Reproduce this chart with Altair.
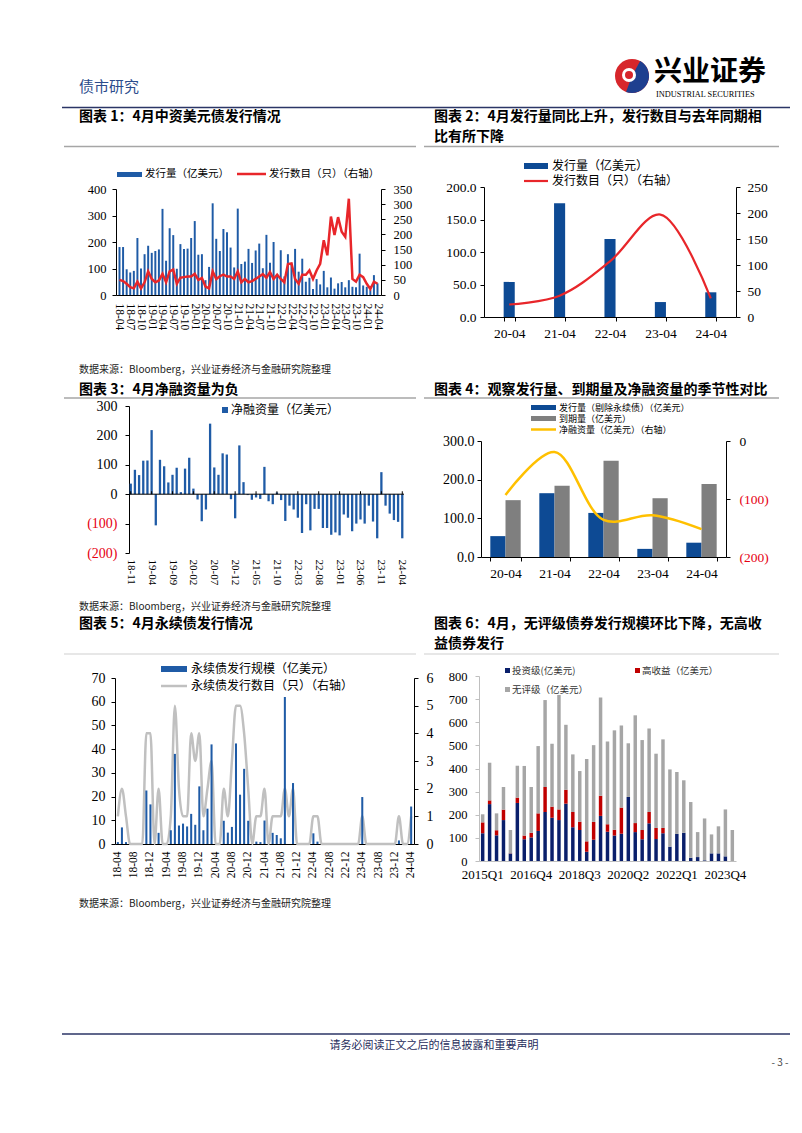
import altair as alt
import pandas as pd

CN = "Noto Sans CJK SC"
NUM = "Liberation Serif"

BLUE = "#1F5BA6"
BLUE_D = "#0D4A94"
RED = "#E8262A"
NEG_RED = "#E60012"
NAVY = "#0A1F6B"
DARK_RED = "#C00000"
GRAY6 = "#A6A6A6"
GRAY4 = "#7F7F7F"
GRAY5 = "#C0C0C0"
YELLOW = "#FFC000"
HEAD = "#2B3566"


def month_labels(y, m, n):
    out = []
    for _ in range(n):
        out.append("%02d-%02d" % (y % 100, m))
        m += 1
        if m > 12:
            m, y = 1, y + 1
    return out


# ---------------- data ----------------
months_1 = month_labels(2018, 4, 73)
issue_amt_1 = [181, 181, 97, 85, 91, 215, 100, 154, 186, 159,
               166, 172, 325, 129, 252, 226, 99, 192, 174, 175,
               215, 279, 152, 154, 56, 106, 346, 212, 166, 249,
               237, 179, 104, 326, 117, 126, 174, 121, 168, 194,
               101, 227, 122, 200, 75, 169, 70, 154, 119, 174,
               88, 137, 50, 65, 23, 60, 40, 91, 29, 66,
               24, 44, 49, 29, 56, 31, 29, 156, 36, 31,
               19, 75, 44]
issue_cnt_1 = [50, 46, 37, 26, 22, 44, 22, 42, 78, 53,
               42, 48, 70, 42, 78, 84, 37, 57, 59, 61,
               61, 70, 50, 56, 28, 22, 78, 53, 62, 67,
               61, 61, 53, 78, 42, 53, 42, 46, 53, 61,
               69, 57, 76, 53, 67, 53, 42, 102, 104, 53,
               37, 67, 67, 81, 53, 81, 103, 181, 131, 259,
               198, 257, 209, 192, 318, 53, 44, 67, 59, 37,
               20, 44, 37]

april_years = ["20-04", "21-04", "22-04", "23-04", "24-04"]
april_amt = [54, 175, 120, 23, 38]
april_cnt = [24, 41, 107, 197, 36]

months_3 = month_labels(2018, 11, 66)
net_3 = [36, 83, 65, 114, 115, 218, -106, 117, 95, 40,
         66, 90, 7, 87, 124, 19, -18, -92, -52, 240,
         91, 66, 139, 135, -17, -82, 166, 41, -3, -19,
         -11, -16, 93, -24, -34, 6, -20, -91, -39, -52,
         -80, -132, -34, -123, -50, -50, -115, -115, -138, -130,
         -140, -69, -80, -126, -100, -86, -100, -39, -93, -150,
         75, -39, -66, -88, -94, -150]

series_4 = ["发行量（剔除永续债）（亿美元）", "到期量（亿美元）"]
april_issue_ex = [54, 165, 114, 21, 37]
april_mature = [147, 184, 249, 152, 189]
april_net = [-93, -19, -136, -128, -152]

months_5 = month_labels(2018, 4, 73)
perp_amt = [0.8, 7, 0.8, 0, 0, 0, 0, 22.6, 16.7, 0,
            4.7, 0, 0, 5.8, 38, 7.8, 8.6, 7.4, 12.7, 8.1,
            24.3, 5.8, 14.9, 42, 0, 0, 9.8, 4.8, 7.2, 42.4,
            20.8, 31.7, 9.8, 0, 1, 0.8, 9.9, 0, 4.7, 3.8,
            2.4, 62, 0, 25.7, 0, 0, 0, 0, 4.5, 1,
            0, 0, 0, 0, 0, 0, 0, 0, 0, 0,
            19.8, 0, 0, 0, 0, 0, 0, 0, 0, 1.5,
            0, 0, 15.8]
perp_cnt = [1, 2, 1, 0, 0, 0, 0, 4, 4, 0,
            2, 0, 0, 1, 5, 2, 1, 1, 4, 3,
            4, 1, 2, 3, 0, 0, 2, 1, 3, 5,
            5, 4, 2, 0, 1, 1, 2, 0, 1, 1,
            1, 2, 1, 2, 0, 0, 0, 0, 1, 1,
            0, 0, 0, 0, 0, 0, 0, 0, 0, 0,
            1, 0, 0, 0, 0, 0, 0, 0, 0, 1,
            0, 0, 1]

quarters_6 = ["%dQ%d" % (y, q) for y in range(2015, 2025) for q in range(1, 5)][:37]
series_6 = ["投资级(亿美元)", "高收益（亿美元）", "无评级（亿美元）"]
ig_6 = [120, 246, 111, 177, 32, 251, 94, 102, 130, 212,
        187, 177, 248, 146, 134, 40, 92, 195, 127, 110,
        118, 277, 125, 94, 163, 95, 120, 62, 117, 122,
        14, 17, 3, 33, 33, 20, 0]
hy_6 = [47, 16, 22, 45, 1, 23, 16, 20, 76, 108,
        48, 46, 60, 66, 36, 45, 77, 87, 32, 25,
        113, 0, 39, 40, 49, 48, 23, 0, 0, 0,
        0, 0, 0, 0, 0, 0, 0]
nr_6 = [35, 163, 73, 98, 101, 138, 301, 198, 291, 376,
        272, 495, 281, 249, 219, 356, 332, 425, 358, 430,
        355, 232, 466, 389, 361, 321, 383, 334, 268, 227,
        241, 108, 181, 82, 117, 203, 134]

SOURCE = "数据来源：Bloomberg，兴业证券经济与金融研究院整理"

# ---------------- helpers ----------------
ONE = pd.DataFrame({"k": [0]})


def label(s, x, y, size, color="#000", weight="normal", font=CN, align="left"):
    return alt.Chart(ONE).mark_text(
        text=s, font=font, fontSize=size, color=color, fontWeight=weight,
        align=align, baseline="middle"
    ).encode(x=alt.value(x), y=alt.value(y))


def hline(x1, x2, y, color, w):
    return alt.Chart(ONE).mark_rule(color=color, strokeWidth=w).encode(
        x=alt.value(x1), x2=alt.value(x2), y=alt.value(y))


def swatch(x1, x2, y1, y2, color):
    return alt.Chart(ONE).mark_rect(color=color).encode(
        x=alt.value(x1), x2=alt.value(x2), y=alt.value(y1), y2=alt.value(y2))


def disc(cx, cy, r, color, t1=0.0, t2=6.2832):
    return alt.Chart(ONE).mark_arc(
        theta=t1, theta2=t2, outerRadius=r, innerRadius=0, color=color
    ).encode(x=alt.value(cx), y=alt.value(cy))


def blank(w=1, h=1):
    return alt.Chart(ONE).mark_point(opacity=0).encode(
        x=alt.value(0), y=alt.value(0)).properties(width=w, height=h)


NEG_EXPR = "datum.value < 0 ? '(' + (-datum.value) + ')' : '' + datum.value"
NEG_COLOR = {"condition": {"test": "datum.value < 0", "value": NEG_RED}, "value": "#000000"}


def yax(vals, orient="left", size=12, pad=6, fmt=None, neg=False, line="#000000", offset=0):
    kw = dict(orient=orient, values=vals, title=None, grid=False, labelFont=NUM,
              labelFontSize=size, labelColor="#000000", domainColor=line,
              tickColor=line, tickSize=4, labelPadding=pad, labelOverlap=False)
    if offset:
        kw["offset"] = offset
    if fmt:
        kw["format"] = fmt
    if neg:
        kw["labelExpr"] = NEG_EXPR
        kw["labelColor"] = NEG_COLOR
    return alt.Axis(**kw)


def xax(vals=None, angle=0, size=12, pad=6, ticks=False, band=False, domain=True, line="#000000"):
    kw = dict(labelAngle=angle, labelFont=NUM, labelFontSize=size, labelColor="#000000",
              domain=domain, domainColor=line, ticks=ticks, labelPadding=pad, title=None,
              labelOverlap=False)
    if vals is not None:
        kw["values"] = vals
    if ticks:
        kw["tickColor"] = line
        kw["tickSize"] = 4
    if band:
        kw["tickBand"] = "extent"
    return alt.Axis(**kw)


# ---------------- chart 1 (view at page x111,y183) ----------------
df1 = pd.DataFrame({"m": months_1, "amt": issue_amt_1, "cnt": issue_cnt_1})
x1 = alt.X("m:N", scale=alt.Scale(domain=months_1, range=[1, 266], paddingInner=0.45, paddingOuter=0.7),
           axis=xax(months_1[::3], angle=90, size=11.5, pad=8))
b1 = alt.Chart(df1).mark_bar(color=BLUE).encode(
    x=x1, y=alt.Y("amt:Q", scale=alt.Scale(domain=[0, 400], range=[108, 2], nice=False),
                  axis=yax([0, 100, 200, 300, 400], size=12.5, pad=6, offset=-1)))
l1 = alt.Chart(df1).mark_line(color=RED, strokeWidth=2.5).encode(
    x=x1, y=alt.Y("cnt:Q", scale=alt.Scale(domain=[0, 350], range=[108, 2], nice=False),
                  axis=yax(list(range(0, 351, 50)), orient="right", size=12.5, pad=8)))
chart1 = alt.layer(
    b1, l1,
    swatch(2, 27, -15, -10, BLUE), label("发行量（亿美元）", 30, -13, 10.5),
    hline(122, 151, -13, RED, 2.5), label("发行数目（只）（右轴）", 154, -13, 10.5),
).resolve_scale(y="independent").properties(width=266, height=108)

# ---------------- chart 2 (view at page x475,y183) ----------------
df2 = pd.DataFrame({"yr": april_years, "amt": april_amt, "cnt": april_cnt})
x2 = alt.X("yr:N", scale=alt.Scale(domain=april_years, range=[5, 257], paddingInner=0.78, paddingOuter=0.39),
           axis=xax(angle=0, size=13.5, pad=5, ticks=True, band=True))
b2 = alt.Chart(df2).mark_bar(color=BLUE_D).encode(
    x=x2, y=alt.Y("amt:Q", scale=alt.Scale(domain=[0, 200], nice=False),
                  axis=yax(list(range(0, 201, 50)), size=13.5, pad=4, fmt=".1f", offset=-5)))
l2 = alt.Chart(df2).mark_line(color=RED, strokeWidth=2.2, interpolate="catmull-rom").encode(
    x=x2, y=alt.Y("cnt:Q", scale=alt.Scale(domain=[0, 250], nice=False),
                  axis=yax(list(range(0, 251, 50)), orient="right", size=13.5, pad=7)))
chart2 = alt.layer(
    b2, l2,
    swatch(45, 69, -24, -18, BLUE_D), label("发行量（亿美元）", 73, -21, 12),
    hline(45, 69, -6, RED, 2.2), label("发行数目（只）（右轴）", 73, -6, 12),
).resolve_scale(y="independent").properties(width=257, height=130)

# ---------------- chart 3 (view at page x111,y402) ----------------
df3 = pd.DataFrame({"m": months_3, "net": net_3})
x3 = alt.X("m:N", scale=alt.Scale(domain=months_3, range=[14, 289], paddingInner=0.45, paddingOuter=0.14),
           axis=xax(months_3[::5], angle=90, size=11, pad=6, domain=False))
scale3 = alt.Scale(domain=[-200, 300], nice=False)
axis3 = yax(list(range(-200, 301, 100)), size=14, pad=8, neg=True, offset=-14)
b3 = alt.Chart(df3).mark_bar(color=BLUE).encode(x=x3, y=alt.Y("net:Q", scale=scale3, axis=axis3))
stub3 = alt.Chart(df3).transform_filter(
    alt.FieldOneOfPredicate(field="m", oneOf=months_3[::5])
).transform_calculate(z="0", t="10").mark_rule(color="#000000", strokeWidth=1).encode(
    x=x3, y=alt.Y("z:Q", scale=scale3, axis=axis3), y2="t:Q")
zero3 = alt.Chart(df3).transform_aggregate(z="min(k0)").transform_calculate(z="0").mark_rule(
    color="#000000", strokeWidth=1).encode(
    x=alt.value(14), x2=alt.value(289), y=alt.Y("z:Q", scale=scale3, axis=axis3))
chart3 = alt.layer(
    b3, zero3, stub3,
    swatch(107, 113, 1, 7, BLUE), label("净融资量（亿美元）", 116, 4, 12),
).properties(width=289, height=147)

# ---------------- chart 4 (view at page x475,y402) ----------------
df4 = pd.DataFrame({
    "yr": april_years * 2,
    "s": [series_4[0]] * 5 + [series_4[1]] * 5,
    "v": april_issue_ex + april_mature,
})
df4l = pd.DataFrame({"yr": april_years, "net": april_net})
x4 = alt.X("yr:N", scale=alt.Scale(domain=april_years, range=[2, 247], paddingInner=0.38, paddingOuter=0.19),
           axis=xax(angle=0, size=13.5, pad=5, ticks=True, band=True))
b4 = alt.Chart(df4).mark_bar().encode(
    x=x4,
    xOffset=alt.XOffset("s:N", scale=alt.Scale(domain=series_4, paddingInner=0, paddingOuter=0)),
    y=alt.Y("v:Q", scale=alt.Scale(domain=[0, 300], range=[151, 35], nice=False),
            axis=yax([0, 100, 200, 300], size=14, pad=3, fmt=".1f", offset=-2)),
    color=alt.Color("s:N", scale=alt.Scale(domain=series_4, range=[BLUE_D, GRAY4]), legend=None),
)
l4 = alt.Chart(df4l).mark_line(color=YELLOW, strokeWidth=2.5, interpolate="catmull-rom").encode(
    x=x4, y=alt.Y("net:Q", scale=alt.Scale(domain=[-200, 0], range=[151, 35], nice=False),
                  axis=yax([-200, -100, 0], orient="right", size=13.5, pad=9, neg=True)))
chart4 = alt.layer(
    b4, l4,
    swatch(52, 77, -1, 4, BLUE_D), label(series_4[0], 80, 1.5, 9),
    swatch(52, 77, 10, 15, GRAY4), label(series_4[1], 80, 12.5, 9),
    hline(52, 77, 23.5, YELLOW, 2.5), label("净融资量（亿美元）（右轴）", 80, 23.5, 9),
).resolve_scale(y="independent").properties(width=247, height=151)

# ---------------- chart 5 (view at page x111,y672) ----------------
df5 = pd.DataFrame({"m": months_5, "amt": perp_amt, "cnt": perp_cnt})
x5 = alt.X("m:N", scale=alt.Scale(domain=months_5, paddingInner=0.5, paddingOuter=0.45),
           axis=xax(months_5[::4], angle=270, size=11.5, pad=7))
b5 = alt.Chart(df5).mark_bar(color=BLUE).encode(
    x=x5, y=alt.Y("amt:Q", scale=alt.Scale(domain=[0, 70], range=[168, 2], nice=False),
                  axis=yax(list(range(0, 71, 10)), size=14, pad=6)))
l5 = alt.Chart(df5).mark_line(color=GRAY5, strokeWidth=2.5, interpolate="monotone").encode(
    x=x5, y=alt.Y("cnt:Q", scale=alt.Scale(domain=[0, 6], range=[168, 2], nice=False),
                  axis=yax(list(range(0, 7)), orient="right", size=14, pad=8)))
chart5 = alt.layer(
    l5, b5,
    swatch(46, 72, -10, -4, BLUE), label("永续债发行规模（亿美元）", 76, -7, 12),
    hline(46, 72, 10, GRAY5, 2.5), label("永续债发行数目（只）（右轴）", 76, 10, 12),
).resolve_scale(y="independent").properties(width=299, height=168)

# ---------------- chart 6 (view at page x475,y672) ----------------
df6 = pd.DataFrame({
    "q": quarters_6 * 3,
    "s": [series_6[0]] * 37 + [series_6[1]] * 37 + [series_6[2]] * 37,
    "o": [0] * 37 + [1] * 37 + [2] * 37,
    "v": ig_6 + hy_6 + nr_6,
})
x6 = alt.X("q:N", scale=alt.Scale(domain=quarters_6, paddingInner=0.5, paddingOuter=0.28),
           axis=xax(quarters_6[::7], angle=0, size=13, pad=7, line="#BFBFBF"))
b6 = alt.Chart(df6).mark_bar().encode(
    x=x6,
    y=alt.Y("v:Q", stack="zero", scale=alt.Scale(domain=[0, 800], nice=False),
            axis=yax(list(range(0, 801, 100)), size=12.5, pad=8, line="#BFBFBF")),
    color=alt.Color("s:N", scale=alt.Scale(domain=series_6, range=[NAVY, DARK_RED, GRAY6]), legend=None),
    order=alt.Order("o:Q"),
)
chart6 = alt.layer(
    b6,
    swatch(26, 31, -8, -3, NAVY), label(series_6[0], 33, -5.5, 9.5, color="#333333"),
    swatch(156, 161, -8, -3, DARK_RED), label(series_6[1], 163, -5.5, 9.5, color="#333333"),
    swatch(26, 31, 11, 16, GRAY6), label(series_6[2], 33, 13.5, 9.5, color="#333333"),
).properties(width=257, height=185)

# ---------------- page overlay (view at page x8,y8) ----------------
overlay = alt.layer(
    label("债市研究", 67, 75, 15, color="#2C4C8C"),
    disc(620, 64, 17, "#D7262B"),
    disc(620, 64, 17, "#1E3F8F", 0.5, 3.5),
    disc(617, 63, 7, "#FFFFFF"),
    disc(617, 63, 4, "#D7262B"),
    label("兴业证券", 642, 61, 28, weight="bold"),
    label("INDUSTRIAL SECURITIES", 644, 83, 8.3, font=NUM),
    hline(50, 778, 95.5, HEAD, 1.6),
    label("图表 1：4月中资美元债发行情况", 67, 105, 14, weight="bold"),
    label("图表 2：4月发行量同比上升，发行数目与去年同期相", 422, 105, 14, weight="bold"),
    label("比有所下降", 422, 125, 14, weight="bold"),
    hline(52, 404, 134.5, "#A6A6A6", 1.5),
    hline(412, 767, 134.5, "#A6A6A6", 1.5),
    label(SOURCE, 67, 358, 10, color="#222222"),
    label("图表 3：4月净融资量为负", 67, 378, 14, weight="bold"),
    label("图表 4：观察发行量、到期量及净融资量的季节性对比", 422, 378, 14, weight="bold"),
    hline(52, 404, 386, "#A6A6A6", 1.5),
    hline(412, 767, 386, "#A6A6A6", 1.5),
    label(SOURCE, 67, 595, 10, color="#222222"),
    label("图表 5：4月永续债发行情况", 67, 612, 14, weight="bold"),
    label("图表 6：4月，无评级债券发行规模环比下降，无高收", 422, 612, 14, weight="bold"),
    label("益债券发行", 422, 632, 14, weight="bold"),
    hline(52, 404, 642, "#D0D0D0", 1.2),
    hline(412, 767, 642, "#D0D0D0", 1.2),
    label(SOURCE, 67, 892, 10, color="#222222"),
    hline(50, 778, 1022, HEAD, 1.6),
    label("请务必阅读正文之后的信息披露和重要声明", 422, 1034, 11, color="#1F2D5C", align="center"),
    label("- 3 -", 768, 1051, 10, color="#444444", align="center"),
).properties(width=103, height=175)

# ---------------- layout: one flat grid of leaf views ----------------
cells = [
    overlay, blank(), blank(65, 1), blank(),
    blank(), chart1, blank(), chart2,
    blank(1, 89), blank(), blank(), blank(),
    blank(), chart3, blank(), chart4,
    blank(1, 119), blank(), blank(), blank(),
    blank(), chart5, blank(), chart6,
]
chart = alt.concat(
    *cells, columns=4, spacing=0, bounds="flush", align="each",
).resolve_scale(color="independent").properties(
    padding=0, background="white"
).configure_view(stroke="transparent")

chart.save("out.html", embed_options={"renderer": "svg", "actions": False})
